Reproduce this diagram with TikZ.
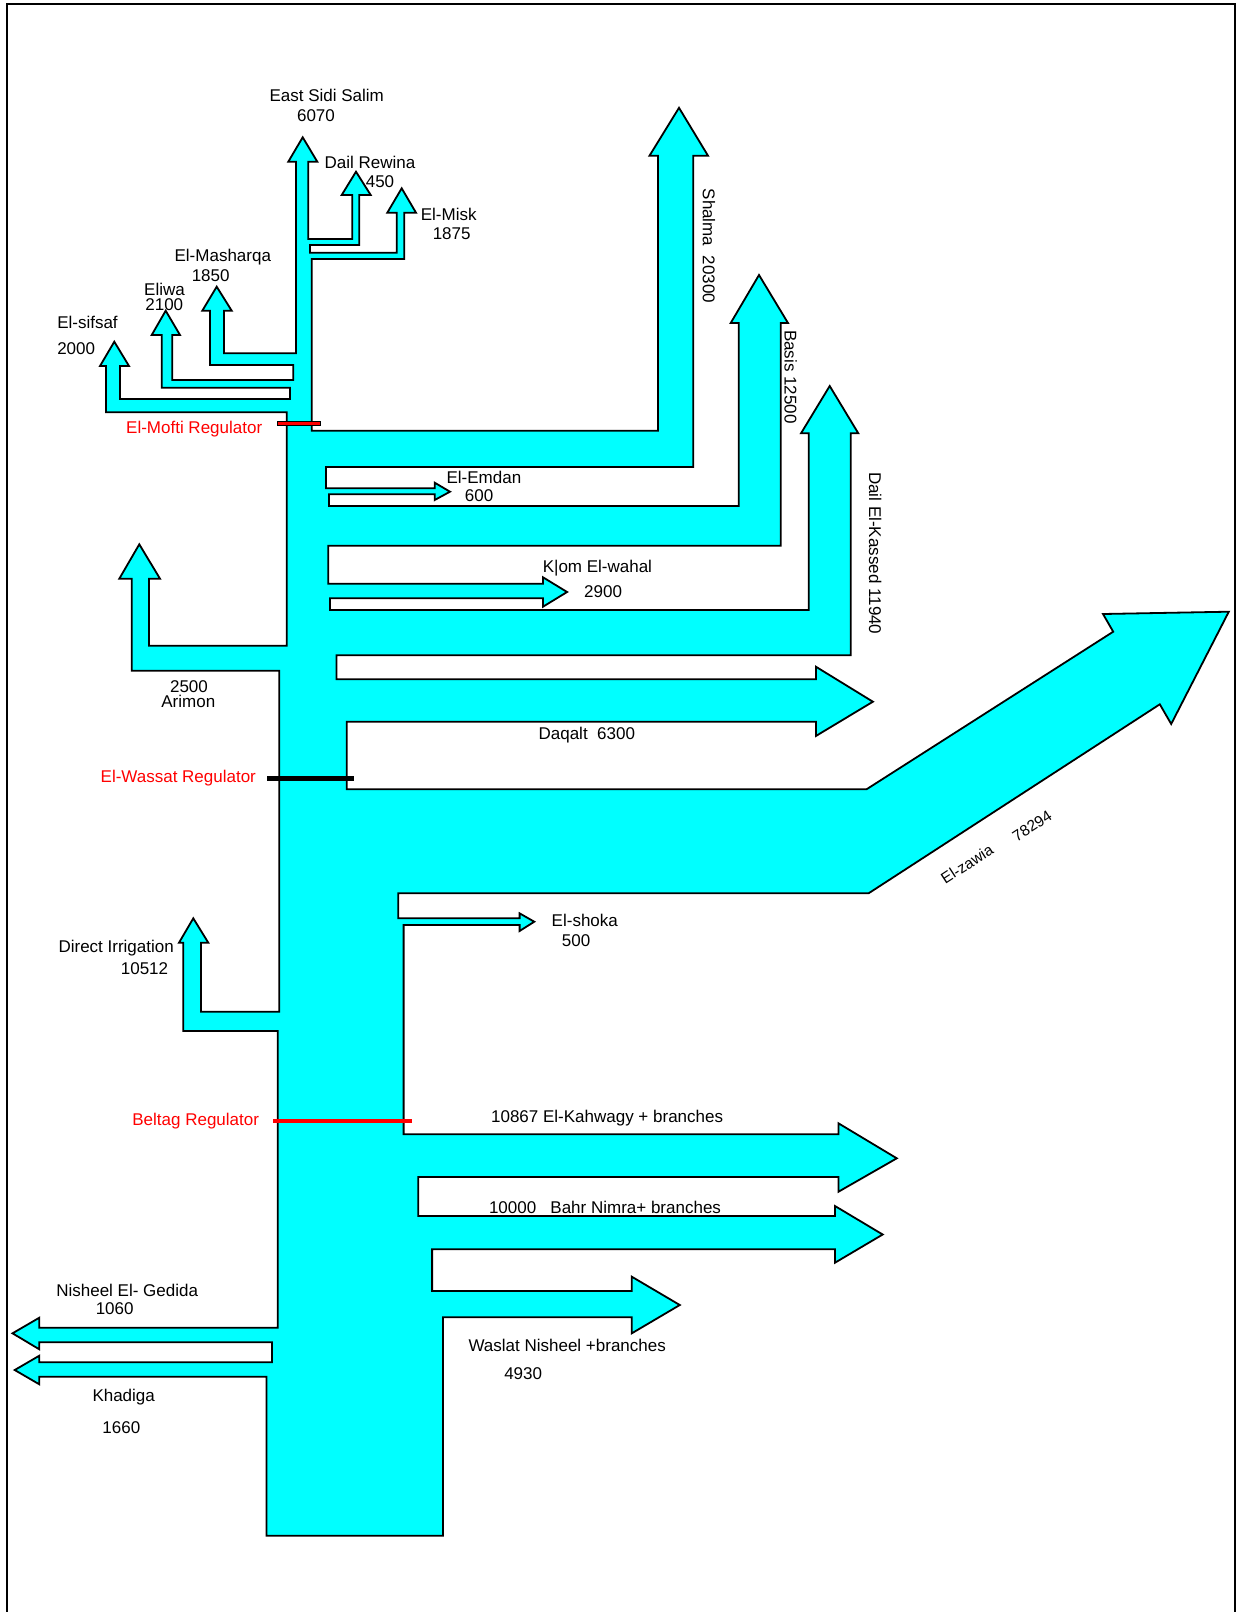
\documentclass[tikz,border=0pt]{standalone}
\usepackage{fontspec}
\setmainfont{Liberation Sans}
\definecolor{aqua}{RGB}{0,255,255}
\definecolor{regred}{RGB}{255,0,0}
\begin{document}
\begin{tikzpicture}[x=1pt,y=-1pt,
  flow/.style={fill=aqua,draw=black,line width=1.8pt,line join=miter},
  lbl/.style={font=\fontsize{17}{20}\selectfont,inner sep=0pt,text=black},
  reg/.style={font=\fontsize{17}{20}\selectfont,inner sep=0pt,text=regred}]
\path[use as bounding box] (0,0) rectangle (1236,1612);
\draw[line width=2pt] (7,1612) -- (7,4) -- (1235,4) -- (1235,1612);
% main canal with all branches
\draw[flow] (266.5,1535.7) -- (266.5,1376.7) -- (39.3,1376.7) -- (39.3,1384.3) -- (14.7,1370) -- (39.3,1355.7) -- (39.3,1362.3)
 -- (271.9,1362.3) -- (271.9,1342.3) -- (39.3,1342.3) -- (39.3,1349.3) -- (12.5,1333.3) -- (39.3,1317.7) -- (39.3,1327.7)
 -- (277.7,1327.7) -- (277.7,1031) -- (183.3,1031) -- (183.3,942.7) -- (179,942.7) -- (193.3,918.3) -- (208.3,942.7) -- (201,942.7)
 -- (201,1011.7) -- (279.3,1011.7) -- (279.3,670.7) -- (131.7,670.7) -- (131.7,578.7) -- (119.3,578.7) -- (139.3,544.3) -- (160,578.7)
 -- (149,578.7) -- (149,645.7) -- (286.7,645.7) -- (286.7,412.3) -- (106,412.3) -- (106,366) -- (100,366) -- (114.3,341.7)
 -- (129,366) -- (120,366) -- (120,399) -- (290,399) -- (290,387.7) -- (161.7,387.7) -- (161.7,335) -- (151.7,335) -- (165.7,310.7)
 -- (180,335) -- (172.3,335) -- (172.3,380) -- (293.3,380) -- (293.3,365) -- (210,365) -- (210,310.7) -- (202.3,310.7) -- (216.7,286.7)
 -- (231.7,310.7) -- (224,310.7) -- (224,353.3) -- (296,353.3) -- (296,161.7) -- (288.3,161.7) -- (302.7,137.3) -- (317.3,161.7)
 -- (308.3,161.7) -- (308.3,239) -- (352.3,239) -- (352.3,195) -- (341.7,195) -- (356,171.7) -- (370.7,195) -- (359.3,195)
 -- (359.3,245) -- (310,245) -- (310,252.7) -- (396.7,252.7) -- (396.7,212.7) -- (387.3,212.7) -- (401.7,188.3) -- (416,212.7)
 -- (404.3,212.7) -- (404.3,259) -- (311.7,259) -- (311.7,430.7) -- (658,430.7) -- (658,155.7) -- (649.5,155.7) -- (679,107.8)
 -- (708,155.7) -- (693.3,155.7) -- (693.3,467) -- (326,467) -- (326,488.3) -- (434.7,488.3) -- (434.7,482.7) -- (450,491.7)
 -- (434.7,500) -- (434.7,494.3) -- (329,494.3) -- (329,506) -- (738.7,506) -- (738.7,323) -- (730.7,323) -- (759,275)
 -- (788,323) -- (780.7,323) -- (780.7,545.8) -- (328.3,545.8) -- (328.3,583.7) -- (543,583.7) -- (543,577.3) -- (567.1,592)
 -- (543,606.7) -- (543,598.3) -- (329.9,598.3) -- (329.9,610) -- (808.7,610) -- (808.7,433.3) -- (801,433.3) -- (829.7,386)
 -- (858.3,433.3) -- (850.7,433.3) -- (850.7,655.3) -- (336.4,655.3) -- (336.4,679.3) -- (815.9,679.3) -- (815.9,666.7)
 -- (872.9,701.7) -- (815.9,736) -- (815.9,721.7) -- (346.7,721.7) -- (346.7,789.3) -- (866.5,789.3) -- (1113.2,631.7)
 -- (1103,614) -- (1228.8,611.7) -- (1171.2,724) -- (1159.8,704.3) -- (868.6,893.3) -- (398.2,893.3) -- (398.2,918.3)
 -- (519.6,918.3) -- (519.6,913.3) -- (534.3,921.7) -- (519.6,931) -- (519.6,925) -- (403.6,925) -- (403.6,1134.3)
 -- (838.5,1134.3) -- (838.5,1123.3) -- (896.8,1158.3) -- (838.5,1191.7) -- (838.5,1177) -- (418.2,1177) -- (418.2,1216)
 -- (835,1216) -- (835,1206) -- (882.7,1234.5) -- (835,1262.7) -- (835,1249.3) -- (432.1,1249.3) -- (432.1,1291)
 -- (631.8,1291) -- (631.8,1276.7) -- (679.8,1305) -- (631.8,1333.3) -- (631.8,1317.3) -- (442.9,1317.3) -- (442.9,1535.7) -- cycle;
% regulators
\draw[fill=regred,draw=black,line width=0.8pt] (277.3,421.8) rectangle (320,425.8);
\fill[black] (267.3,775.8) rectangle (354,780.6);
\fill[regred] (273.3,1118.8) rectangle (411.7,1123.4);
% labels
\node[lbl] (ess) at (326.7,95) {East Sidi Salim};
\node[lbl] (essv) at (316,116) {6070};
\node[lbl] (dr) at (370,162.7) {Dail Rewina};
\node[lbl] (drv) at (380,181.7) {450};
\node[lbl] (mi) at (448.7,214) {El-Misk};
\node[lbl] (miv) at (451.7,234) {1875};
\node[lbl] (ma) at (222.8,256.7) {El-Masharqa};
\node[lbl] (mav) at (210.7,275.7) {1850};
\node[lbl] (el) at (164.5,289.3) {Eliwa};
\node[lbl] (elv) at (164.3,304.3) {2100};
\node[lbl] (sf) at (87.5,322.7) {El-sifsaf};
\node[lbl] (sfv) at (76.2,348.3) {2000};
\node[reg] (mofti) at (194.2,429.3) {El-Mofti Regulator};
\node[lbl,rotate=-90] (sh) at (709,245.9) {Shalma\ \ 20300};
\node[lbl,rotate=-90] (ba) at (790.7,376.8) {Basis 12500};
\node[lbl,rotate=-90] (dk) at (875.2,553.3) {Dail El-Kassed 11940};
\node[lbl] (em) at (483.9,477.7) {El-Emdan};
\node[lbl] (emv) at (479.1,495.7) {600};
\node[lbl] (kw) at (597.4,567.7) {K|om El-wahal};
\node[lbl] (kwv) at (603.1,591.7) {2900};
\node[lbl] (ar) at (189,686.7) {2500};
\node[lbl] (arn) at (188.3,701) {Arimon};
\node[lbl] (dq) at (586.8,735) {Daqalt\ \ 6300};
\node[reg] (wassat) at (178.3,778.4) {El-Wassat Regulator};
\node[lbl,rotate=33,font=\fontsize{15.5}{18}\selectfont] (zw) at (967,864) {El-zawia};
\node[lbl,rotate=33,font=\fontsize{15.5}{18}\selectfont] (zwv) at (1032,826) {78294};
\node[lbl] (sk) at (584.8,920) {El-shoka};
\node[lbl] (skv) at (576.1,941) {500};
\node[lbl] (di) at (116.2,948.3) {Direct Irrigation};
\node[lbl] (div) at (144.5,969) {10512};
\node[reg] (beltag) at (195.7,1121) {Beltag Regulator};
\node[lbl] (kh) at (607.1,1118.3) {10867 El-Kahwagy + branches};
\node[lbl] (bn) at (605,1207.3) {10000\ \ \ Bahr Nimra+ branches};
\node[lbl] (ng) at (127.2,1290) {Nisheel El- Gedida};
\node[lbl] (ngv) at (114.7,1309) {1060};
\node[lbl] (kd) at (123.7,1396.7) {Khadiga};
\node[lbl] (kdv) at (121.4,1427.3) {1660};
\node[lbl] (wn) at (567.2,1345.7) {Waslat Nisheel +branches};
\node[lbl] (wnv) at (523.2,1373.3) {4930};
\end{tikzpicture}
\end{document}
